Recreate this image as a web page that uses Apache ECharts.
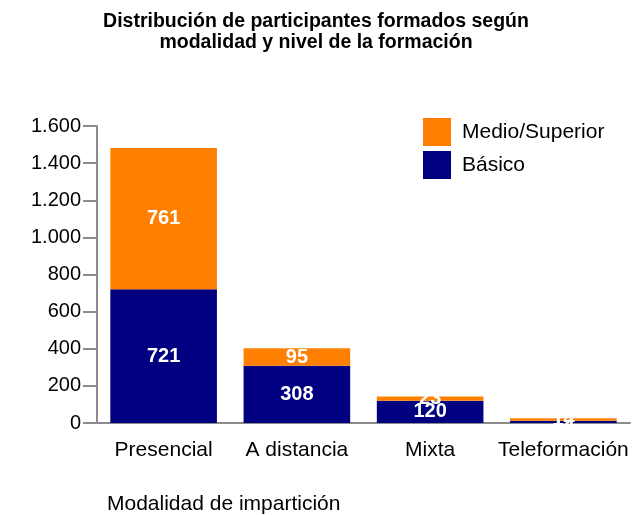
<!DOCTYPE html>
<html>
<head>
<meta charset="utf-8">
<script src="https://cdn.jsdelivr.net/npm/echarts@6/dist/echarts.min.js"></script>
<style>
  html, body { margin: 0; padding: 0; background: #fff; }
  #main { width: 632px; height: 515px; }
</style>
</head>
<body>
<div id="main"></div>
<script>
const categories = ['Presencial', 'A distancia', 'Mixta', 'Teleformación'];
const basico = [721, 308, 120, 12];
const medioSuperior = [761, 95, 23, 14];
const yTicks = [0, 200, 400, 600, 800, 1000, 1200, 1400, 1600];

const font = '"Liberation Sans", Arial, sans-serif';
const axisGray = '#8c8c8c';

const chart = echarts.init(document.getElementById('main'));
const option = {
    animation: false,
    textStyle: { fontFamily: font },
    title: {
        text: 'Distribución de participantes formados según\nmodalidad y nivel de la formación',
        left: 'center',
        top: 11,
        padding: 0,
        textStyle: { fontSize: 19.5, fontWeight: 'bold', color: '#000', lineHeight: 21, fontFamily: font }
    },
    legend: {
        data: ['Medio/Superior', 'Básico'],
        orient: 'vertical',
        left: 423,
        top: 118,
        padding: 0,
        itemWidth: 28,
        itemHeight: 28,
        itemGap: 5,
        icon: 'rect',
        textStyle: { fontSize: 21, color: '#000', fontFamily: font, padding: [0, 0, 0, 6] }
    },
    grid: { left: 97, right: 2, top: 126, bottom: 92, outerBoundsMode: 'none' },
    xAxis: {
        type: 'category',
        data: categories,
        name: 'Modalidad de impartición',
        nameLocation: 'start',
        nameGap: 0,
        nameTextStyle: {
            fontSize: 21, color: '#000', align: 'left', verticalAlign: 'top',
            padding: [71, 0, 0, 10]
        },
        axisLine: { lineStyle: { color: axisGray, width: 2 } },
        axisTick: { length: 14, lineStyle: { color: axisGray, width: 2 } },
        axisLabel: { fontSize: 21, color: '#000', margin: 17, interval: 0 }
    },
    yAxis: {
        type: 'value',
        min: 0,
        max: 1600,
        interval: 200,
        splitLine: { show: false },
        axisLine: { show: true, lineStyle: { color: axisGray, width: 2 } },
        axisTick: { show: true, length: 14, lineStyle: { color: axisGray, width: 2 } },
        axisLabel: {
            fontSize: 20, color: '#000', margin: 16, padding: [4, 0, 0, 0],
            formatter: v => yTicks.includes(v) ? v.toString().replace(/\B(?=(\d{3})+(?!\d))/g, '.') : ''
        }
    },
    series: [{
        name: 'Básico',
        type: 'bar',
        stack: 'total',
        data: basico,
        barCategoryGap: '20%',
        itemStyle: { color: '#000080' },
        label: { show: true, position: 'inside', color: '#fff', fontSize: 20, fontWeight: 'bold', fontFamily: font }
    }, {
        name: 'Medio/Superior',
        type: 'bar',
        stack: 'total',
        data: medioSuperior,
        barCategoryGap: '20%',
        itemStyle: { color: '#ff8000' },
        label: { show: true, position: 'inside', color: '#fff', fontSize: 20, fontWeight: 'bold', fontFamily: font }
    }]
};

window.addEventListener('resize', () => chart.resize());
chart.setOption(option);
</script>
</body>
</html>
